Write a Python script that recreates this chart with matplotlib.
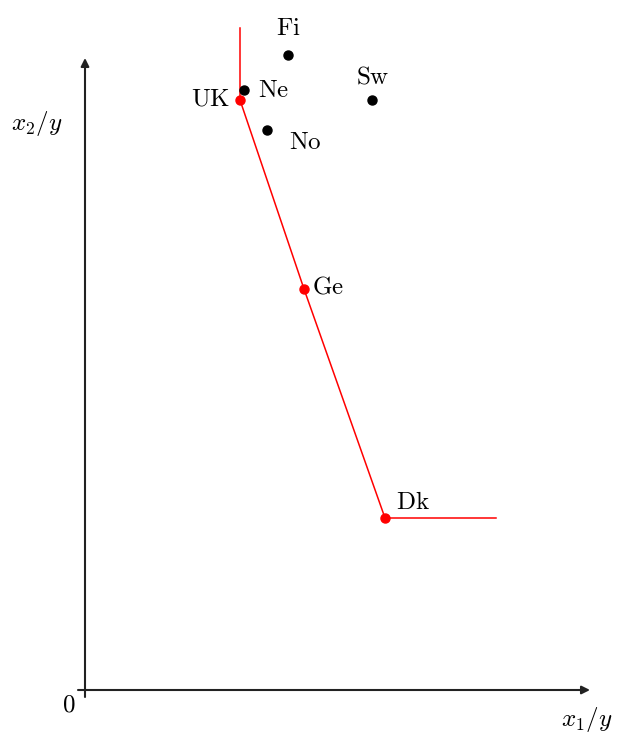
import matplotlib
matplotlib.use("Agg")
import matplotlib.pyplot as plt

plt.rcParams['mathtext.fontset'] = 'cm'

# data (arbitrary units)
countries = ["UK", "Ne", "Fi", "Sw", "No", "Ge", "Dk"]
x1_y = [1.55, 1.59, 2.03, 2.87, 1.82, 2.19, 3.00]
x2_y = [5.90, 6.00, 6.35, 5.90, 5.60, 4.01, 1.72]
frontier = ["UK", "Ge", "Dk"]
frontier_top = 6.62
frontier_right = 4.11

fig = plt.figure(figsize=(6.22, 7.40), dpi=100)
ax = fig.add_axes([0, 0, 1, 1])
ax.set_xlim(-0.85, 5.37)
ax.set_ylim(-0.50, 6.90)
ax.axis('off')

# axes arrows
ax.annotate("", xy=(5.05, 0), xytext=(-0.07, 0),
            arrowprops=dict(arrowstyle="-|>", color="#222222", lw=1.5,
                            mutation_scale=12, shrinkA=0, shrinkB=0))
ax.annotate("", xy=(0, 6.32), xytext=(0, -0.07),
            arrowprops=dict(arrowstyle="-|>", color="#222222", lw=1.5,
                            mutation_scale=12, shrinkA=0, shrinkB=0))

# frontier
idx = {c: i for i, c in enumerate(countries)}
fx = [x1_y[idx[frontier[0]]]] + [x1_y[idx[c]] for c in frontier] + [frontier_right]
fy = [frontier_top] + [x2_y[idx[c]] for c in frontier] + [x2_y[idx[frontier[-1]]]]
ax.plot(fx, fy, color="red", lw=1.1, zorder=2)

for c, x, y in zip(countries, x1_y, x2_y):
    col = "red" if c in frontier else "black"
    ax.plot(x, y, 'o', color=col, ms=6.5, zorder=3)

fs = 18
offsets = {
    "UK": (-0.10, 0.02, 'right', 'center'),
    "Ne": (0.14, 0.00, 'left', 'center'),
    "Fi": (0.00, 0.27, 'center', 'center'),
    "Sw": (0.01, 0.24, 'center', 'center'),
    "No": (0.22, -0.12, 'left', 'center'),
    "Ge": (0.08, 0.03, 'left', 'center'),
    "Dk": (0.11, 0.16, 'left', 'center'),
}
for c, x, y in zip(countries, x1_y, x2_y):
    dx, dy, ha, va = offsets[c]
    ax.text(x + dx, y + dy, r"$\mathrm{%s}$" % c, fontsize=fs, ha=ha, va=va)

ax.text(-0.48, 5.67, r"$x_2/y$", fontsize=fs, ha='center', va='center')
ax.text(5.02, -0.30, r"$x_1/y$", fontsize=fs, ha='center', va='center')
ax.text(-0.16, -0.15, r"$0$", fontsize=fs, ha='center', va='center')

fig.savefig("out.png", dpi=100)
